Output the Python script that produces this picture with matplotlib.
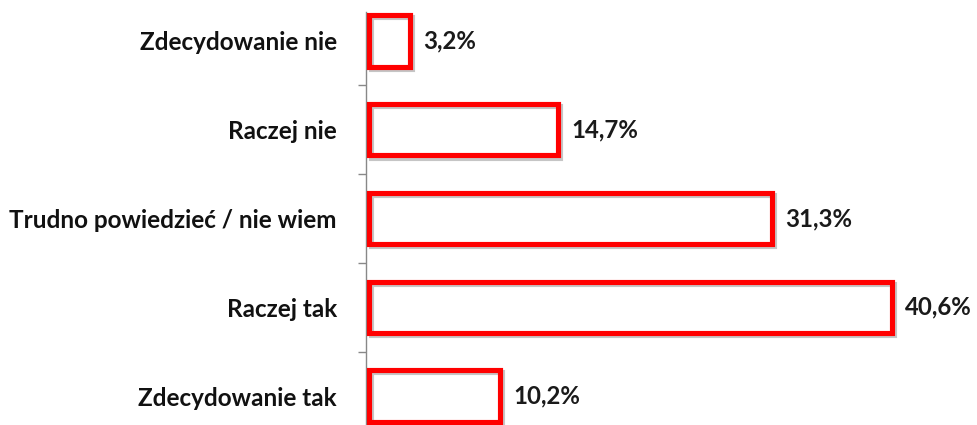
import matplotlib
matplotlib.use("Agg")
import matplotlib.pyplot as plt
import matplotlib.patheffects as pe

# Survey answers, top to bottom
categories = ["Zdecydowanie nie", "Raczej nie", "Trudno powiedzieć / nie wiem",
              "Raczej tak", "Zdecydowanie tak"]
values = [3.2, 14.7, 31.3, 40.6, 10.2]
value_labels = ["3,2%", "14,7%", "31,3%", "40,6%", "10,2%"]

plt.rcParams['font.family'] = ['Lato', 'DejaVu Sans']

fig = plt.figure(figsize=(9.78, 4.25), dpi=100)
ax = fig.add_axes([366 / 978, -15.5 / 425, 612 / 978, 444 / 425])

pos = list(range(len(categories)))
bars = ax.barh(pos, values, height=0.58, facecolor='none',
               edgecolor='#ff0000', linewidth=3.7, zorder=3)
for b in bars:
    b.set_path_effects([
        pe.SimpleLineShadow(offset=(1.5, -1.5), shadow_color='#808080', alpha=0.45),
        pe.Normal()])

for p, v, lab in zip(pos, values, value_labels):
    ax.text(v + 1.0, p, lab, va='center', ha='left', fontsize=17.3,
            fontweight='bold', color='#1a1a1a')

ax.set_ylim(4.5, -0.5)
ax.set_xlim(-0.2, 47.25)

ax.set_yticks(pos)
ax.set_yticklabels(categories, fontsize=17.5, fontweight='bold', color='#111111')
ax.set_yticks([0.5, 1.5, 2.5, 3.5], minor=True)
ax.tick_params(axis='y', which='major', length=0, pad=21)
ax.tick_params(axis='y', which='minor', length=6, width=1, color='#888888')
ax.set_xticks([])

for s in ['top', 'right', 'bottom']:
    ax.spines[s].set_visible(False)
ax.spines['left'].set_color('#888888')
ax.spines['left'].set_linewidth(1)
ax.spines['left'].set_bounds(4.5, -0.32)

fig.savefig("out.png", dpi=100)
